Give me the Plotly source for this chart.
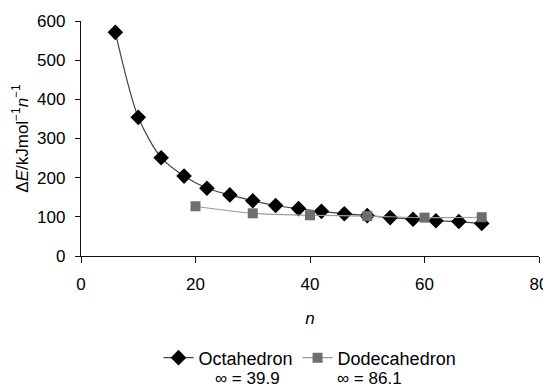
import plotly.graph_objects as go

# Data
octa_n = [6, 10, 14, 18, 22, 26, 30, 34, 38, 42, 46, 50, 54, 58, 62, 66, 70]
octa_E = [571, 354, 251, 204, 173, 156, 141, 129, 121, 114, 108, 103, 98, 94, 90, 88, 83]
dodeca_n = [20, 30, 40, 50, 60, 70]
dodeca_E = [127, 109, 104, 102, 98, 99]
x_ticks = [0, 20, 40, 60, 80]
y_ticks = [0, 100, 200, 300, 400, 500, 600]
limit_labels = ["∞ = 39.9", "∞ = 86.1"]

FONT = "Liberation Sans, Arial, sans-serif"

fig = go.Figure()
fig.add_trace(go.Scatter(
    x=octa_n, y=octa_E, mode="lines+markers",
    name="Octahedron",
    line=dict(color="#444444", width=1.2, shape="spline", smoothing=0.8),
    marker=dict(symbol="diamond", size=12, color="#000000"),
))
fig.add_trace(go.Scatter(
    x=dodeca_n, y=dodeca_E, mode="lines+markers",
    name="Dodecahedron",
    line=dict(color="#9a9a9a", width=1.2, shape="spline", smoothing=0.8),
    marker=dict(symbol="square", size=10, color="#6e6e6e"),
))

# The page places the figure 8 px in from the top-left corner,
# so the figure is 8 px smaller and margins are reduced accordingly.
fig.update_layout(
    width=543, height=384,
    margin=dict(l=73, r=12, t=13, b=136, autoexpand=False),
    paper_bgcolor="white", plot_bgcolor="white",
    font=dict(family=FONT, size=17, color="#000000"),
    showlegend=True,
    legend=dict(
        orientation="h", x=0.5, xanchor="center", y=-0.355, yanchor="top",
        itemwidth=30, font=dict(size=18), traceorder="normal",
    ),
    xaxis=dict(
        range=[0, 80], tickvals=x_ticks, showgrid=False, zeroline=False,
        showline=True, linecolor="#111111", linewidth=1.3,
        ticks="outside", ticklen=6, tickcolor="#111111", tickwidth=1.3,
        ticklabelstandoff=6,
        title=dict(text="<i>n</i>", font=dict(size=17), standoff=19),
    ),
    yaxis=dict(
        range=[0, 600], tickvals=y_ticks, showgrid=False, zeroline=False,
        showline=True, linecolor="#111111", linewidth=1.3,
        ticks="outside", ticklen=5, tickcolor="#111111", tickwidth=1.3,
        ticklabelstandoff=6,
        title=dict(text="Δ<i>E</i>/kJmol<sup>−1</sup><i>n</i><sup>−1</sup>",
                   font=dict(size=17), standoff=4),
    ),
)

for txt, xp in zip(limit_labels, [0.363, 0.631]):
    fig.add_annotation(text=txt, xref="paper", yref="paper", x=xp, y=-0.52,
                       xanchor="center", yanchor="middle", showarrow=False,
                       font=dict(size=17))

fig.write_html("out.html")
